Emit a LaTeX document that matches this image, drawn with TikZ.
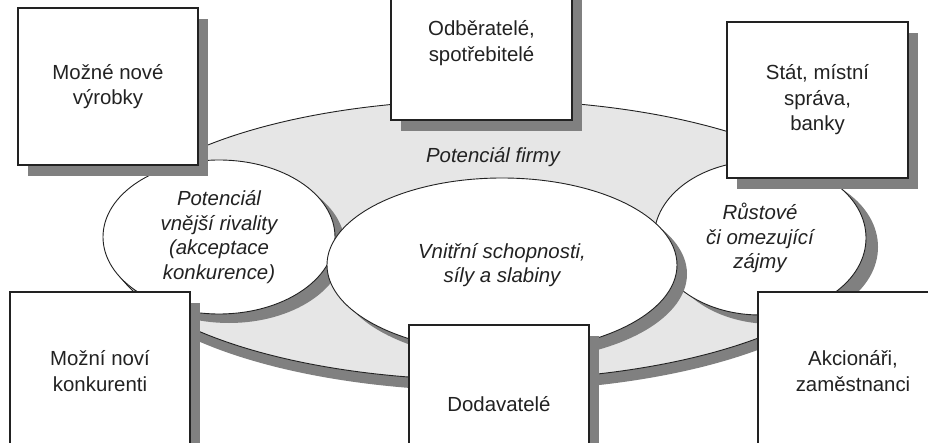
\documentclass[tikz,border=0pt]{standalone}
\usepackage{fontspec}
\setmainfont{Liberation Sans}
\usetikzlibrary{shapes.geometric,shadows}
\definecolor{discgray}{HTML}{E6E6E6}
\definecolor{shgray}{HTML}{808080}
\definecolor{linec}{HTML}{222222}
\begin{document}
\begin{tikzpicture}[x=1pt,y=-1pt,
  txt/.style={font=\fontsize{20.4}{25.5}\selectfont, align=center, text=linec},
  boxnode/.style={txt, rectangle, draw=linec, line width=1.4pt, fill=white,
    minimum width=180pt, minimum height=157pt, inner sep=0pt,
    drop shadow={shadow xshift=10pt, shadow yshift=-11pt, fill=shgray, opacity=1}},
  ell/.style={ellipse, draw=linec, line width=0.9pt, fill=white, inner sep=0pt,
    align=center, text=linec, font=\fontsize{20.4}{24.5}\selectfont\itshape},
  ellshadow/.style={drop shadow={shadow xshift=#1, shadow yshift=-9pt, fill=shgray, opacity=1}},
]
\useasboundingbox (0,0) rectangle (928,443);
\clip (0,0) rectangle (928,443);

% thickness of the big disc
\begin{scope}
  \clip (140,0) rectangle (928,443);
  \fill[shgray] (489,251) ellipse [x radius=380, y radius=140];
\end{scope}
% big disc
\node[ellipse, fill=discgray, draw=linec, line width=0.9pt, inner sep=0pt,
      minimum width=760pt, minimum height=280pt]
      (disc) at (487,240) {};

% side ellipses
\node[ell, ellshadow=10pt, minimum width=232pt, minimum height=154pt] (rival) at (219,237)
  {Potenciál\\vnější rivality\\(akceptace\\konkurence)};
\node[ell, ellshadow=12pt, minimum width=212pt, minimum height=154pt] (growth) at (760,238)
  {Růstové\\či omezující\\zájmy};

% centre ellipse
\node[ell, ellshadow=10pt, minimum width=350pt, minimum height=174pt] (inner) at (502,265)
  {Vnitřní schopnosti,\\síly a slabiny};

% disc label
\node[txt, font=\fontsize{20.4}{25}\selectfont\itshape] (firm) at (493,157) {Potenciál firmy};

% boxes
\node[boxnode] (products) at (108,86.5) {Možné nové\\výrobky};
\node[boxnode, minimum width=181pt, minimum height=154pt] (customers) at (481.5,43) {Odběratelé,\\spotřebitelé};
\node[boxnode, minimum width=181pt, minimum height=156pt] (state) at (817.5,100) {Stát, místní\\správa,\\banky};
\node[boxnode, minimum height=158pt] (competitors) at (100,371) {Možní noví\\konkurenti};
\node[boxnode, minimum height=158pt] (suppliers) at (499,404) {Dodavatelé};
\node[boxnode, minimum width=190pt, minimum height=158pt] (holders) at (853,371) {Akcionáři,\\zaměstnanci};
\end{tikzpicture}
\end{document}
